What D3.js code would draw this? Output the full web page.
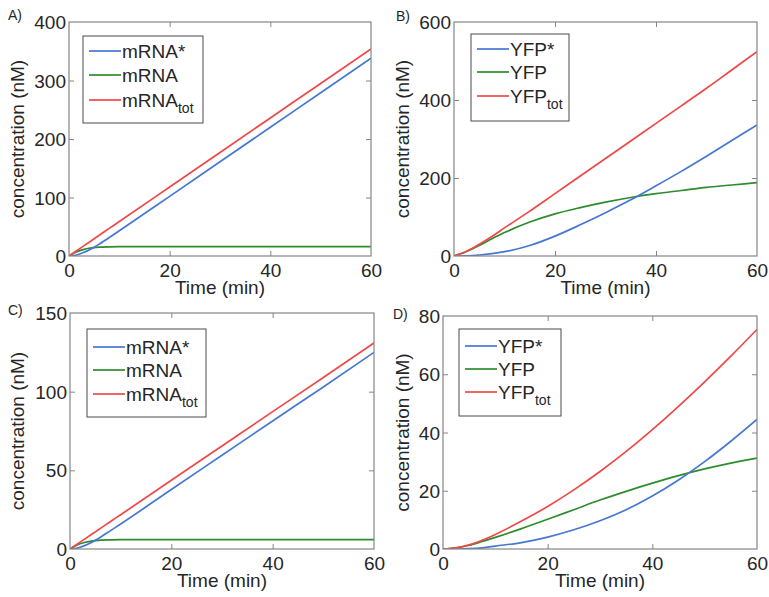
<!DOCTYPE html>
<html>
<head>
<meta charset="utf-8">
<script src="https://cdn.jsdelivr.net/npm/d3@7/dist/d3.min.js"></script>
<style>
  html, body { margin: 0; padding: 0; background: #fff; }
  svg { display: block; font-family: "Liberation Sans", Arial, Helvetica, sans-serif; }
</style>
</head>
<body>
<svg id="chart" width="769" height="597"></svg>
<script>
// ---------- DATA ----------
// Panels A and C: mRNA (time in min, concentration in nM)
const timeMRNA = [0, 1, 2, 3, 4, 5, 6, 8, 10, 20, 30, 40, 50, 60];
const mRNAstarA = [0, 0.9, 3.1, 6.3, 10.4, 15.1, 20.3, 31.5, 43.1, 102, 161, 220, 279, 338];
const mRNAA     = [0, 5, 8.7, 11.4, 13.2, 14.4, 15.1, 15.7, 15.9, 16, 16, 16, 16, 16];
const mRNAtotA  = [0, 5.9, 11.8, 17.7, 23.6, 29.5, 35.4, 47.2, 59, 118, 177, 236, 295, 354];

const mRNAstarC = [0, 0.3, 1.1, 2.3, 3.8, 5.6, 7.5, 11.7, 15.9, 37.8, 59.6, 81.4, 103, 125];
const mRNAC     = [0, 1.9, 3.3, 4.3, 4.9, 5.3, 5.6, 5.8, 5.9, 5.9, 5.9, 5.9, 5.9, 5.9];
const mRNAtotC  = [0, 2.18, 4.37, 6.55, 8.73, 10.9, 13.1, 17.5, 21.8, 43.7, 65.5, 87.3, 109, 131];

// Panels B and D: YFP
const timeYFP = [0, 2.5, 5, 7.5, 10, 15, 20, 25, 30, 35, 40, 45, 50, 55, 60];
const YFPstarB = [0, 0.5, 2.5, 6, 11, 27, 51, 80, 111, 144, 180, 217, 256, 296, 336];
const YFPB     = [0, 11.5, 27, 44, 60, 87, 108, 124, 138, 150, 160, 168, 176, 182, 188];
const YFPtotB  = [0, 12, 30, 50, 72, 115, 160, 205, 250, 295, 340, 385, 430, 477, 524];

const YFPstarD = [0, 0, 0.1, 0.4, 1, 2.2, 4.1, 6.6, 9.7, 13.5, 18.2, 23.7, 30, 37, 44.5];
const YFPD     = [0, 0.4, 1.3, 2.6, 4, 7, 10.2, 13.5, 16.8, 19.8, 22.6, 25.2, 27.5, 29.5, 31.2];
const YFPtotD  = [0, 0.4, 1.4, 3, 5, 9.6, 14.6, 20.3, 26.6, 33.5, 41, 49, 57.4, 66.2, 75.4];

// Tick labels
const xTicks  = [0, 20, 40, 60];
const yTicksA = [0, 100, 200, 300, 400];
const yTicksB = [0, 200, 400, 600];
const yTicksC = [0, 50, 100, 150];
const yTicksD = [0, 20, 40, 60, 80];

const legendMRNA = ["mRNA*", "mRNA", "mRNA|tot"];
const legendYFP  = ["YFP*", "YFP", "YFP|tot"];
const panelLetters = ["A)", "B)", "C)", "D)"];

// ---------- STYLE / LAYOUT ----------
const colors = ["#4677d2", "#2e8c2e", "#f04848"];
const frameColor = "#858585";
const textColor = "#262626";

const panels = [
  { letter: panelLetters[0], lx: 8,   ly: 20,  box: [69, 22, 371, 256],  yMax: 400, yTicks: yTicksA,
    t: timeMRNA, series: [mRNAstarA, mRNAA, mRNAtotA], legend: legendMRNA,
    leg: [83, 36, 203, 123], rows: [51, 75, 100], ytx: 24 },
  { letter: panelLetters[1], lx: 396, ly: 21,  box: [454, 22, 757, 256], yMax: 600, yTicks: yTicksB,
    t: timeYFP, series: [YFPstarB, YFPB, YFPtotB], legend: legendYFP,
    leg: [471, 34, 569, 121], rows: [49, 72, 96], ytx: 409 },
  { letter: panelLetters[2], lx: 8,   ly: 315, box: [70, 313, 374, 549], yMax: 150, yTicks: yTicksC,
    t: timeMRNA, series: [mRNAstarC, mRNAC, mRNAtotC], legend: legendMRNA,
    leg: [87, 329, 206, 417], rows: [347, 370, 394], ytx: 24 },
  { letter: panelLetters[3], lx: 393, ly: 319, box: [443, 316, 757, 549], yMax: 80, yTicks: yTicksD,
    t: timeYFP, series: [YFPstarD, YFPD, YFPtotD], legend: legendYFP,
    leg: [459, 329, 561, 416], rows: [346, 369, 392], ytx: 409 }
];

const svg = d3.select("#chart");
const fs = 19;

panels.forEach(p => {
  const [x0, y0, x1, y1] = p.box;
  const x = d3.scaleLinear().domain([0, 60]).range([x0, x1]);
  const y = d3.scaleLinear().domain([0, p.yMax]).range([y1, y0]);
  const g = svg.append("g");

  // panel letter
  g.append("text").attr("x", p.lx).attr("y", p.ly)
    .attr("font-size", 14).attr("fill", textColor).text(p.letter);

  // data lines (clip to box)
  const clipId = "clip" + p.letter[0];
  svg.append("clipPath").attr("id", clipId).append("rect")
    .attr("x", x0).attr("y", y0 - 2).attr("width", x1 - x0).attr("height", y1 - y0 + 2);
  const line = d3.line().x((d, i) => x(p.t[i])).y(d => y(d)).curve(d3.curveMonotoneX);
  const lg = g.append("g").attr("clip-path", `url(#${clipId})`);
  // draw green, then blue, then red (red topmost like the reference)
  [1, 0, 2].forEach(k => {
    lg.append("path").datum(p.series[k])
      .attr("d", line).attr("fill", "none")
      .attr("stroke", colors[k]).attr("stroke-width", 1.7)
      .attr("stroke-linejoin", "round");
  });

  // axes: bottom and left with inward ticks, mirrored on top / right
  const tickLen = 5;
  const axB = d3.axisBottom(x).tickValues(xTicks).tickSizeInner(-tickLen).tickSizeOuter(0).tickPadding(8);
  const axL = d3.axisLeft(y).tickValues(p.yTicks).tickSizeInner(-tickLen).tickSizeOuter(0).tickPadding(8);
  const axT = d3.axisTop(x).tickValues(xTicks).tickSizeInner(-tickLen).tickSizeOuter(0).tickFormat("");
  const axR = d3.axisRight(y).tickValues(p.yTicks).tickSizeInner(-tickLen).tickSizeOuter(0).tickFormat("");

  const gb = g.append("g").attr("transform", `translate(0,${y1})`).call(axB);
  const gl = g.append("g").attr("transform", `translate(${x0},0)`).call(axL);
  const gt = g.append("g").attr("transform", `translate(0,${y0})`).call(axT);
  const gr = g.append("g").attr("transform", `translate(${x1},0)`).call(axR);
  [gb, gl, gt, gr].forEach(a => {
    a.select(".domain").remove();
    a.selectAll(".tick line").attr("stroke", frameColor).attr("stroke-width", 1);
    a.selectAll(".tick text").attr("fill", textColor).attr("font-size", fs)
      .attr("font-family", "Liberation Sans, Arial, sans-serif");
  });
  gb.selectAll(".tick text").attr("dy", "0.72em").attr("y", 7);
  gl.selectAll(".tick text").attr("x", -3).attr("dy", "0.35em");
  // hide ticks at the frame corners
  [gb, gt].forEach(a => a.selectAll(".tick").filter(d => d === 0 || d === 60).select("line").remove());
  [gl, gr].forEach(a => a.selectAll(".tick").filter(d => d === 0 || d === p.yMax).select("line").remove());

  // frame
  g.append("rect").attr("x", x0).attr("y", y0).attr("width", x1 - x0).attr("height", y1 - y0)
    .attr("fill", "none").attr("stroke", frameColor).attr("stroke-width", 1.2);

  // axis titles
  g.append("text").attr("x", (x0 + x1) / 2).attr("y", y1 + 38)
    .attr("text-anchor", "middle").attr("font-size", fs).attr("fill", textColor).text("Time (min)");
  g.append("text").attr("transform", `translate(${p.ytx},${(y0 + y1) / 2}) rotate(-90)`)
    .attr("text-anchor", "middle").attr("font-size", fs).attr("fill", textColor).text("concentration (nM)");

  // legend
  const [lx0, ly0, lx1, ly1] = p.leg;
  const lgd = g.append("g");
  lgd.append("rect").attr("x", lx0).attr("y", ly0).attr("width", lx1 - lx0).attr("height", ly1 - ly0)
    .attr("fill", "#fff").attr("stroke", "#4a4a4a").attr("stroke-width", 1);
  p.legend.forEach((lab, i) => {
    const ry = p.rows[i];
    lgd.append("line").attr("x1", lx0 + 6).attr("x2", lx0 + 38).attr("y1", ry).attr("y2", ry)
      .attr("stroke", colors[i]).attr("stroke-width", 1.7);
    const parts = lab.split("|");
    const t = lgd.append("text").attr("x", lx0 + 39).attr("y", ry + 7)
      .attr("font-size", fs).attr("fill", textColor);
    t.append("tspan").text(parts[0]);
    if (parts[1]) {
      t.append("tspan").attr("font-size", 14).attr("dy", 6).text(parts[1]);
    }
  });
});
</script>
</body>
</html>
